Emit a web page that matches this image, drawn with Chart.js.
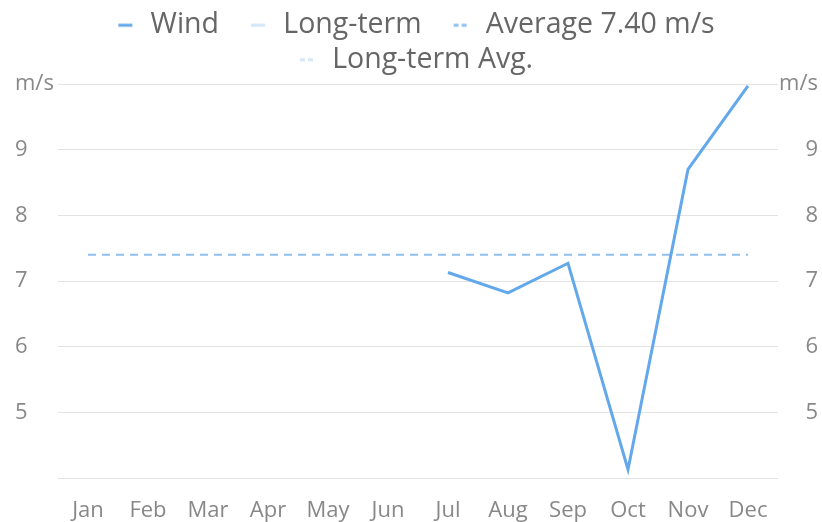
<!DOCTYPE html>
<html>
<head>
<meta charset="utf-8">
<script src="https://cdn.jsdelivr.net/npm/chart.js@4"></script>
<style>
  html, body { margin: 0; padding: 0; background: #fff; }
  #wrap { width: 822px; height: 522px; }
</style>
</head>
<body>
<div id="wrap"><canvas id="myChart"></canvas></div>
<script>
const months = ["Jan", "Feb", "Mar", "Apr", "May", "Jun", "Jul", "Aug", "Sep", "Oct", "Nov", "Dec"];
const windValues = [null, null, null, null, null, null, 7.13, 6.82, 7.27, 4.13, 8.70, 9.97];
const longTermValues = [null, null, null, null, null, null, null, null, null, null, null, null];
const averageValues = [7.40, 7.40, 7.40, 7.40, 7.40, 7.40, 7.40, 7.40, 7.40, 7.40, 7.40, 7.40];
const longTermAvgValues = [null, null, null, null, null, null, null, null, null, null, null, null];
const yTicks = [4, 5, 6, 7, 8, 9, 10];

const ctx = document.getElementById("myChart").getContext("2d");

const tickFont = { size: 22, family: "Open Sans" };
const yTickLabel = function (value) {
  if (value === 10) return "m/s";
  if (value === 4) return "";
  return value;
};

// legend marker: short line with some space before it
const LEAD = 26;
const MARK_W = LEAD + 14 + 4;
function legendMarker(color, dash, width) {
  const c = document.createElement("canvas");
  c.width = MARK_W;
  c.height = 6;
  const g = c.getContext("2d");
  g.strokeStyle = color;
  g.lineWidth = width;
  g.setLineDash(dash);
  g.beginPath();
  g.moveTo(LEAD, 3);
  g.lineTo(LEAD + 14, 3);
  g.stroke();
  return c;
}

// nudge the legend left a bit, the lead space makes it sit off-centre
const legendShift = {
  id: "legendShift",
  afterLayout: function (chart) {
    if (chart.legend) {
      chart.legend.left -= 13;
      chart.legend.right -= 13;
    }
  },
};

new Chart(ctx, {
  type: "line",
  data: {
    labels: months,
    datasets: [
      {
        label: "Wind",
        data: windValues,
        borderColor: "#62a8ea",
        borderWidth: 3,
        pointRadius: 0,
        tension: 0,
        yAxisID: "y",
      },
      {
        label: "Long-term",
        data: longTermValues,
        borderColor: "#d3e6f7",
        borderWidth: 3,
        pointRadius: 0,
        yAxisID: "y",
      },
      {
        label: "Average 7.40 m/s",
        data: averageValues,
        borderColor: "#8fc0f0",
        borderWidth: 2,
        borderDash: [8, 6],
        pointRadius: 0,
        yAxisID: "y",
      },
      {
        label: "Long-term Avg.",
        data: longTermAvgValues,
        borderColor: "#d3e6f7",
        borderWidth: 2,
        borderDash: [8, 6],
        pointRadius: 0,
        yAxisID: "y",
      },
    ],
  },
  plugins: [legendShift],
  options: {
    responsive: true,
    maintainAspectRatio: false,
    animation: false,
    layout: {
      padding: { left: 15, right: 4, top: 5, bottom: 0 },
    },
    scales: {
      x: {
        offset: true,
        afterFit: function (scale) { scale.height = 44; },
        ticks: { font: tickFont, color: "#888", padding: 20 },
        grid: { display: false, drawTicks: false },
        border: { display: false },
      },
      y: {
        position: "left",
        min: 4,
        max: 10,
        afterBuildTicks: function (scale) {
          scale.ticks = yTicks.map(function (v) { return { value: v }; });
        },
        afterFit: function (scale) { scale.width = 43; },
        ticks: { font: tickFont, color: "#888", crossAlign: "far", padding: 0, callback: yTickLabel },
        grid: { color: "#e3e3e3", drawTicks: false, lineWidth: 1 },
        border: { display: false },
      },
      y2: {
        position: "right",
        min: 4,
        max: 10,
        afterBuildTicks: function (scale) {
          scale.ticks = yTicks.map(function (v) { return { value: v }; });
        },
        afterFit: function (scale) { scale.width = 40; },
        ticks: { font: tickFont, color: "#888", crossAlign: "far", padding: 0, callback: yTickLabel },
        grid: { display: false },
        border: { display: false },
      },
    },
    plugins: {
      legend: {
        display: true,
        position: "top",
        labels: {
          font: { size: 28.5, family: "Open Sans" },
          color: "#666",
          usePointStyle: true,
          pointStyleWidth: MARK_W,
          boxHeight: 6,
          padding: 6,
          generateLabels: function (chart) {
            return chart.data.datasets.map(function (ds, i) {
              return {
                text: ds.label,
                fillStyle: ds.borderColor,
                strokeStyle: ds.borderColor,
                lineWidth: 0,
                pointStyle: legendMarker(ds.borderColor, ds.borderDash ? [5, 3] : [], 3),
                hidden: !chart.isDatasetVisible(i),
                datasetIndex: i,
                fontColor: "#666",
              };
            });
          },
        },
      },
      tooltip: { enabled: false },
    },
  },
});
</script>
</body>
</html>
